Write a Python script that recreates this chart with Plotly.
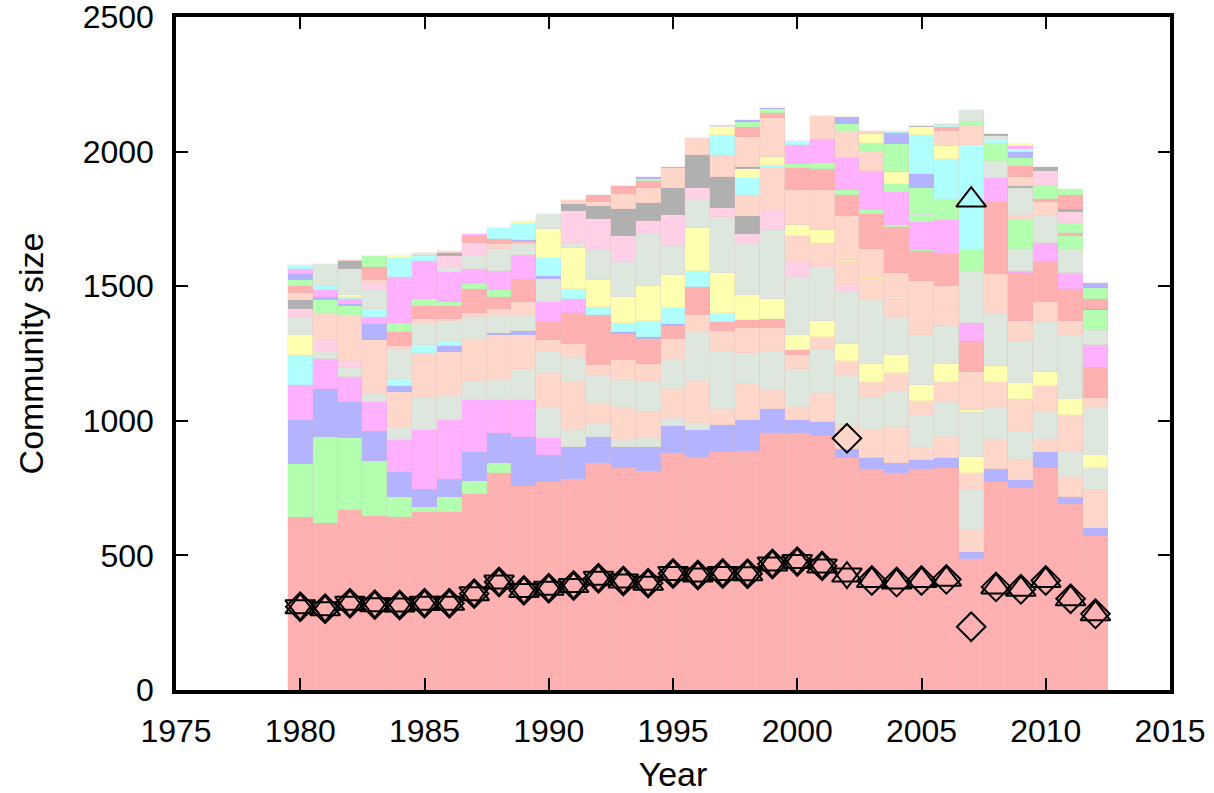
import plotly.graph_objects as go

# Community composition per year, listed bottom-up as (colour code, size)
years = list(range(1980, 2013))

seg_1980 = [("R", 643), ("G", 198), ("L", 163), ("M", 130), ("C", 111), ("Y", 74), ("S", 66), ("K", 31), ("A", 33), ("P", 27), ("R", 26), ("G", 21), ("L", 21), ("M", 19), ("C", 16)]
seg_1981 = [("R", 621), ("G", 319), ("L", 180), ("M", 108), ("S", 28), ("K", 46), ("P", 97), ("G", 49), ("L", 12), ("M", 27), ("C", 13), ("S", 83)]
seg_1982 = [("R", 669), ("G", 266), ("L", 136), ("M", 91), ("S", 33), ("K", 28), ("P", 170), ("G", 35), ("L", 6), ("M", 19), ("C", 6), ("Y", 9), ("S", 97), ("A", 27), ("P", 6)]
seg_1983 = [("R", 646), ("G", 205), ("L", 111), ("M", 108), ("S", 29), ("P", 201), ("L", 59), ("M", 25), ("C", 30), ("S", 72), ("K", 25), ("P", 12), ("R", 47), ("G", 42)]
seg_1984 = [("R", 641), ("G", 77), ("L", 93), ("M", 118), ("S", 47), ("P", 132), ("L", 21), ("C", 25), ("S", 111), ("P", 12), ("R", 53), ("G", 33), ("M", 173), ("C", 69), ("Y", 11)]
seg_1985 = [("R", 662), ("G", 19), ("L", 65), ("M", 218), ("S", 120), ("P", 167), ("C", 31), ("S", 83), ("P", 14), ("R", 49), ("G", 25), ("M", 139), ("C", 21), ("S", 12)]
seg_1986 = [("R", 662), ("G", 56), ("L", 65), ("M", 220), ("S", 93), ("P", 161), ("L", 21), ("C", 19), ("S", 72), ("P", 10), ("R", 49), ("G", 15), ("M", 108), ("S", 20), ("K", 42), ("A", 12), ("P", 7)]
seg_1987 = [("R", 728), ("G", 48), ("L", 109), ("M", 192), ("S", 71), ("P", 155), ("S", 84), ("P", 13), ("R", 89), ("G", 20), ("M", 55), ("S", 49), ("K", 47), ("R", 27), ("M", 7)]
seg_1988 = [("R", 805), ("G", 37), ("L", 111), ("M", 124), ("S", 77), ("P", 165), ("L", 6), ("S", 68), ("P", 21), ("R", 47), ("G", 25), ("M", 71), ("S", 82), ("P", 19), ("R", 17), ("C", 43)]
seg_1989 = [("R", 758), ("L", 183), ("M", 136), ("S", 114), ("P", 127), ("L", 15), ("S", 59), ("P", 49), ("R", 87), ("M", 87), ("S", 41), ("P", 5), ("R", 6), ("L", 6), ("C", 59), ("Y", 9)]
seg_1990 = [("R", 774), ("L", 99), ("M", 62), ("S", 115), ("P", 126), ("S", 80), ("P", 46), ("R", 65), ("M", 74), ("S", 87), ("L", 9), ("C", 66), ("Y", 111), ("S", 56)]
seg_1991 = [("R", 783), ("L", 121), ("S", 61), ("P", 181), ("S", 87), ("P", 54), ("R", 115), ("M", 50), ("C", 39), ("Y", 150), ("S", 21), ("K", 118), ("A", 27), ("P", 13)]
seg_1992 = [("R", 842), ("L", 99), ("S", 50), ("P", 74), ("S", 103), ("P", 40), ("R", 186), ("C", 29), ("Y", 101), ("S", 109), ("K", 118), ("A", 48), ("P", 12), ("R", 29)]
seg_1993 = [("R", 823), ("L", 78), ("S", 33), ("P", 117), ("S", 102), ("P", 74), ("R", 97), ("L", 6), ("C", 33), ("Y", 97), ("S", 130), ("K", 95), ("A", 103), ("P", 56), ("R", 27)]
seg_1994 = [("R", 815), ("L", 87), ("S", 33), ("P", 99), ("S", 115), ("P", 62), ("R", 93), ("L", 6), ("C", 62), ("Y", 129), ("S", 192), ("K", 49), ("A", 68), ("P", 56), ("R", 25), ("G", 6), ("L", 7)]
seg_1995 = [("R", 879), ("L", 103), ("S", 27), ("P", 111), ("S", 109), ("P", 74), ("R", 49), ("L", 6), ("C", 62), ("Y", 120), ("S", 111), ("K", 115), ("A", 98), ("P", 74), ("L", 6)]
seg_1996 = [("R", 867), ("L", 97), ("S", 27), ("P", 158), ("S", 182), ("P", 62), ("R", 104), ("C", 59), ("Y", 162), ("S", 104), ("K", 41), ("A", 124), ("P", 62)]
seg_1997 = [("R", 885), ("L", 99), ("P", 59), ("S", 211), ("P", 79), ("R", 35), ("C", 31), ("Y", 149), ("S", 210), ("K", 31), ("A", 117), ("P", 83), ("C", 74), ("Y", 28), ("S", 6)]
seg_1998 = [("R", 888), ("L", 115), ("P", 133), ("S", 115), ("P", 93), ("R", 31), ("Y", 93), ("S", 192), ("K", 33), ("A", 69), ("P", 77), ("C", 62), ("Y", 35), ("A", 5), ("P", 115), ("R", 35), ("G", 19), ("L", 9)]
seg_1999 = [("R", 953), ("L", 90), ("P", 71), ("S", 142), ("P", 89), ("R", 35), ("Y", 72), ("S", 256), ("K", 74), ("P", 157), ("C", 13), ("Y", 28), ("P", 145), ("R", 20), ("G", 12), ("L", 6)]
seg_2000 = [("R", 953), ("L", 49), ("P", 49), ("S", 143), ("P", 49), ("R", 19), ("Y", 56), ("S", 217), ("K", 56), ("P", 97), ("Y", 40), ("P", 130), ("R", 81), ("G", 15), ("M", 69), ("C", 17)]
seg_2001 = [("R", 944), ("L", 50), ("P", 111), ("S", 163), ("P", 43), ("Y", 58), ("S", 202), ("K", 6), ("P", 83), ("Y", 47), ("P", 149), ("R", 80), ("G", 21), ("M", 90), ("P", 86)]
seg_2002 = [("R", 861), ("L", 35), ("P", 89), ("S", 183), ("P", 55), ("Y", 62), ("S", 193), ("K", 25), ("P", 89), ("Y", 6), ("P", 161), ("R", 81), ("G", 16), ("M", 120), ("P", 101), ("G", 25), ("L", 25)]
seg_2003 = [("R", 821), ("L", 40), ("P", 105), ("S", 120), ("P", 57), ("Y", 67), ("S", 239), ("P", 77), ("Y", 6), ("P", 107), ("R", 129), ("G", 16), ("M", 145), ("P", 69), ("G", 33), ("Y", 33), ("P", 12)]
seg_2004 = [("R", 807), ("L", 35), ("P", 136), ("S", 134), ("P", 65), ("Y", 68), ("S", 142), ("P", 68), ("Y", 6), ("P", 89), ("R", 171), ("G", 6), ("M", 124), ("G", 27), ("Y", 47), ("G", 103), ("L", 40), ("C", 9)]
seg_2005 = [("R", 821), ("L", 33), ("P", 49), ("S", 120), ("P", 49), ("Y", 62), ("S", 183), ("P", 49), ("P", 155), ("R", 108), ("G", 7), ("M", 104), ("G", 20), ("S", 9), ("G", 95), ("L", 53), ("C", 145), ("Y", 28), ("A", 4)]
seg_2006 = [("R", 826), ("L", 35), ("P", 80), ("S", 130), ("P", 72), ("Y", 67), ("S", 143), ("P", 58), ("P", 90), ("R", 117), ("M", 127), ("G", 78), ("C", 151), ("Y", 47), ("P", 55), ("R", 16), ("C", 6), ("S", 6)]
seg_2007 = [("R", 485), ("L", 28), ("P", 81), ("S", 149), ("P", 62), ("Y", 62), ("S", 167), ("Y", 6), ("P", 142), ("R", 114), ("M", 69), ("S", 191), ("G", 78), ("C", 387), ("Y", 5), ("P", 69), ("G", 15), ("S", 43)]
seg_2008 = [("R", 774), ("L", 47), ("P", 108), ("S", 124), ("P", 91), ("Y", 58), ("S", 195), ("P", 149), ("R", 267), ("M", 89), ("S", 62), ("G", 68), ("C", 16), ("S", 9), ("A", 9)]
seg_2009 = [("R", 751), ("L", 29), ("P", 74), ("S", 105), ("P", 121), ("Y", 62), ("S", 153), ("P", 74), ("R", 181), ("M", 5), ("S", 84), ("G", 109), ("P", 17), ("S", 99), ("A", 7), ("P", 33), ("R", 41), ("G", 33), ("L", 21), ("C", 10), ("M", 10), ("Y", 9)]
seg_2010 = [("R", 826), ("L", 57), ("P", 46), ("S", 103), ("P", 99), ("Y", 52), ("S", 183), ("P", 74), ("R", 151), ("M", 68), ("S", 103), ("P", 50), ("R", 12), ("G", 49), ("K", 55), ("A", 16)]
seg_2011 = [("R", 690), ("L", 28), ("P", 68), ("S", 101), ("P", 136), ("Y", 59), ("S", 235), ("P", 52), ("R", 119), ("M", 62), ("S", 89), ("G", 47), ("R", 13), ("G", 37), ("K", 39), ("A", 13), ("R", 49), ("G", 25)]
seg_2012 = [("R", 573), ("L", 27), ("P", 142), ("S", 83), ("Y", 47), ("S", 176), ("P", 37), ("R", 115), ("M", 83), ("S", 53), ("G", 49), ("G", 25), ("A", 6), ("R", 37), ("G", 39), ("L", 20)]

columns = [
    seg_1980, seg_1981, seg_1982, seg_1983, seg_1984, seg_1985, seg_1986, seg_1987,
    seg_1988, seg_1989, seg_1990, seg_1991, seg_1992, seg_1993, seg_1994, seg_1995,
    seg_1996, seg_1997, seg_1998, seg_1999, seg_2000, seg_2001, seg_2002, seg_2003,
    seg_2004, seg_2005, seg_2006, seg_2007, seg_2008, seg_2009, seg_2010, seg_2011,
    seg_2012,
]

# Size estimates of the tracked community (None where not available)
diamond_size = [309, 302, 322, 317, 316, 322, 322, 358, 401, 370, 378, 388, 415, 405, 397, 433,
                427, 433, 432, 468, 477, 461, 935, 407, 401, 407, 411, 235, 383, 374, 407, 339, 283]
tri_up_size = [309, 302, 322, 317, 316, 322, 322, 358, 401, 370, 378, 388, 415, 405, 397, 433,
               427, 433, 432, 468, 477, 461, 427, 407, 401, 407, 411, 1820, 383, 374, 407, 339, 283]
tri_down_size = [309, 302, 322, 317, 316, 322, 322, 358, 401, 370, 378, 388, 415, 405, 397, 433,
                 427, 433, 432, 468, 477, 461, 427, None, None, None, None, None, None, None, None, None, None]

palette = {
    "R": "#FFB0B0",  # salmon
    "L": "#B3B3FF",  # lavender
    "G": "#B3FFB0",  # green
    "M": "#FFB0FF",  # magenta
    "C": "#B0FFFF",  # cyan
    "Y": "#FFFFB0",  # yellow
    "P": "#FFD6CA",  # peach
    "S": "#DEE7DD",  # sage
    "K": "#FFD0E6",  # light pink
    "A": "#B0B0B0",  # grey
}

fig = go.Figure()

n_layers = max(len(c) for c in columns)
for k in range(n_layers):
    heights = [c[k][1] if k < len(c) else None for c in columns]
    colors = [palette[c[k][0]] if k < len(c) else "rgba(0,0,0,0)" for c in columns]
    fig.add_trace(go.Bar(
        x=years, y=heights, width=1.0,
        marker=dict(color=colors, line=dict(color="rgba(215,185,185,0.3)", width=0.6)),
        showlegend=False, hoverinfo="skip",
    ))

marker_line = dict(color="black", width=2)
fig.add_trace(go.Scatter(
    x=years, y=diamond_size, mode="markers", showlegend=False,
    marker=dict(symbol="diamond-open", size=22, color="black", line=marker_line),
))
fig.add_trace(go.Scatter(
    x=years, y=tri_up_size, mode="markers", showlegend=False,
    marker=dict(symbol="triangle-up-open", size=26, color="black", line=marker_line),
))
fig.add_trace(go.Scatter(
    x=years, y=tri_down_size, mode="markers", showlegend=False,
    marker=dict(symbol="triangle-down-open", size=26, color="black", line=marker_line),
))

tick_font = dict(family="Liberation Sans, Arial, sans-serif", size=32, color="black")
title_font = dict(family="Liberation Sans, Arial, sans-serif", size=34, color="black")
fig.update_layout(
    barmode="stack", bargap=0,
    width=1214, height=793,
    margin=dict(l=176, r=44, t=17, b=103),
    paper_bgcolor="white", plot_bgcolor="white",
    font=tick_font,
)
fig.update_xaxes(
    range=[1975, 2015], dtick=5, tick0=1975, automargin=False,
    showline=True, linecolor="black", linewidth=3.5, mirror="ticks",
    ticks="inside", ticklen=12, tickwidth=2, tickcolor="black",
    showgrid=False, zeroline=False, ticklabelstandoff=10,
    ticklabeloverflow="allow", tickfont=tick_font,
    title=dict(text="Year", font=title_font, standoff=16),
)
fig.update_yaxes(
    range=[0, 2500], dtick=500, automargin=False,
    showline=True, linecolor="black", linewidth=3.5, mirror="ticks",
    ticks="inside", ticklen=12, tickwidth=2, tickcolor="black",
    showgrid=False, zeroline=False, ticklabelstandoff=12,
    ticklabeloverflow="allow", tickfont=tick_font,
    title=dict(text="Community size", font=title_font, standoff=30),
)

fig.write_html("out.html")
